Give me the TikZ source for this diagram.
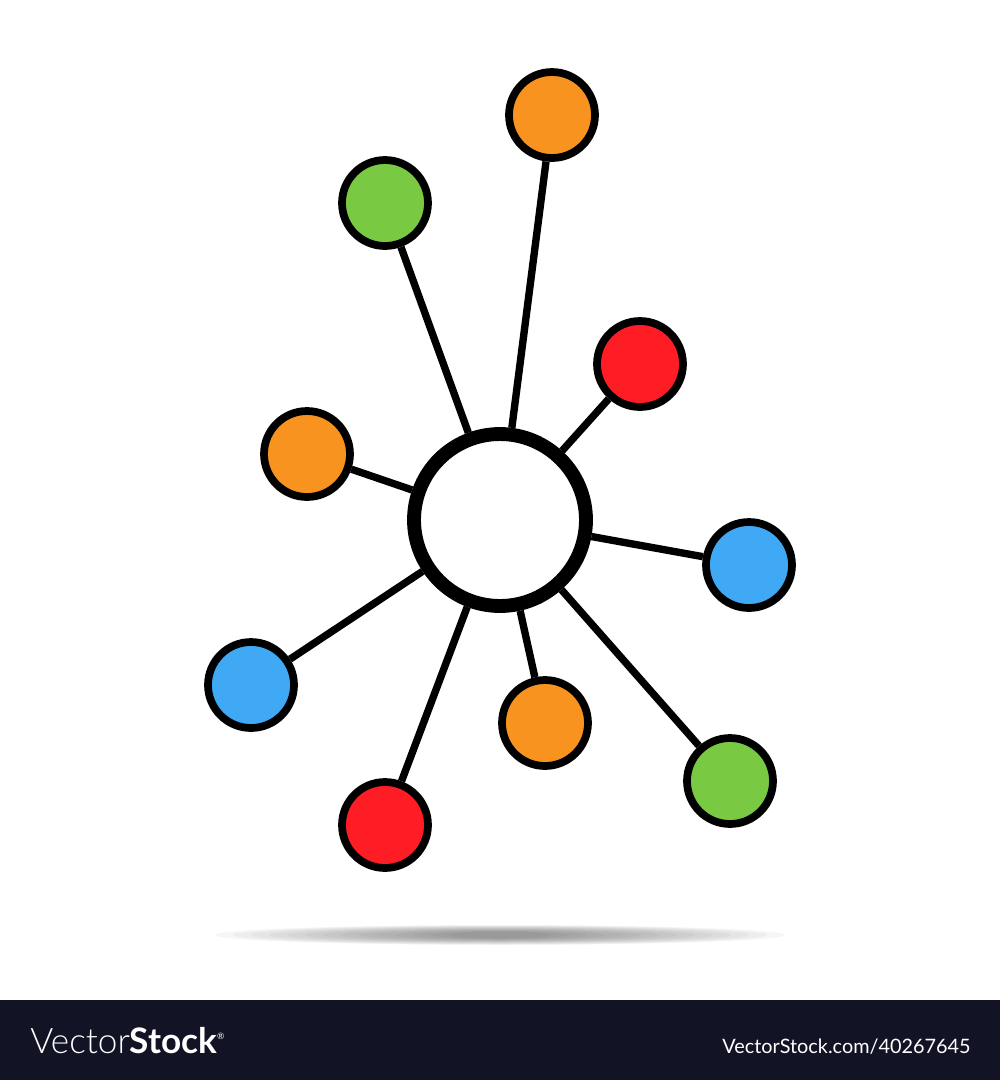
\documentclass[tikz,border=0pt]{standalone}
\usepackage{fontspec}
\newfontfamily\vsfont{Lato}
\IfFontExistsTF{Lato Light}{\newfontfamily\vslight{Lato Light}}{\newfontfamily\vslight{Lato}}
\definecolor{vsorange}{HTML}{F7931E}
\definecolor{vsgreen}{HTML}{7AC943}
\definecolor{vsred}{HTML}{FF1D25}
\definecolor{vsblue}{HTML}{3FA9F5}
\definecolor{vsnavy}{HTML}{121426}
\tikzset{
	hub/.style={circle, draw=black, fill=white, line width=7.9pt, minimum size=3.44cm, inner sep=0pt},
	sat/.style={circle, draw=black, line width=4.4pt, minimum size=1.72cm, inner sep=0pt},
	spoke/.style={draw=black, line width=4.2pt}
}

\begin{document}
\begin{tikzpicture}[x=0.02cm, y=-0.02cm]
	\useasboundingbox (0,0) rectangle (1000,1080);
	% soft floor shadow
	\foreach \k in {0,...,13}
	{\fill[black, opacity=0.035] (500,935) ellipse ({285-18*\k} and {10-0.5*\k});}
	\node[hub] (hub) at (500,520) {};
	\foreach \X/\Y/\C [count=\Z] in {552/115/vsorange, 385/203/vsgreen, 640/364/vsred, 307/454/vsorange, 749/565/vsblue, 251/685/vsblue, 545/723/vsorange, 730/781/vsgreen, 385/825/vsred}
	{\node[sat, fill=\C] (v\Z) at (\X,\Y) {};}
	\foreach \Z in {1,...,9}
	{\draw[spoke] (hub) -- (v\Z);}
	\fill[vsnavy] (0,1000) rectangle (1000,1080);
	\node[anchor=base west, inner sep=0pt, text=white, font=\fontsize{20}{24}\selectfont] (brand) at (30,1053) {{\vslight Vector}{\vsfont\bfseries Stock}\textsuperscript{\vsfont\tiny\textregistered}};
	\node[anchor=base west, inner sep=0pt, text=white, font=\vsfont\fontsize{11.3}{14}\selectfont] (ref) at (722,1053) {VectorStock.com/40267645};
\end{tikzpicture}
\end{document}
